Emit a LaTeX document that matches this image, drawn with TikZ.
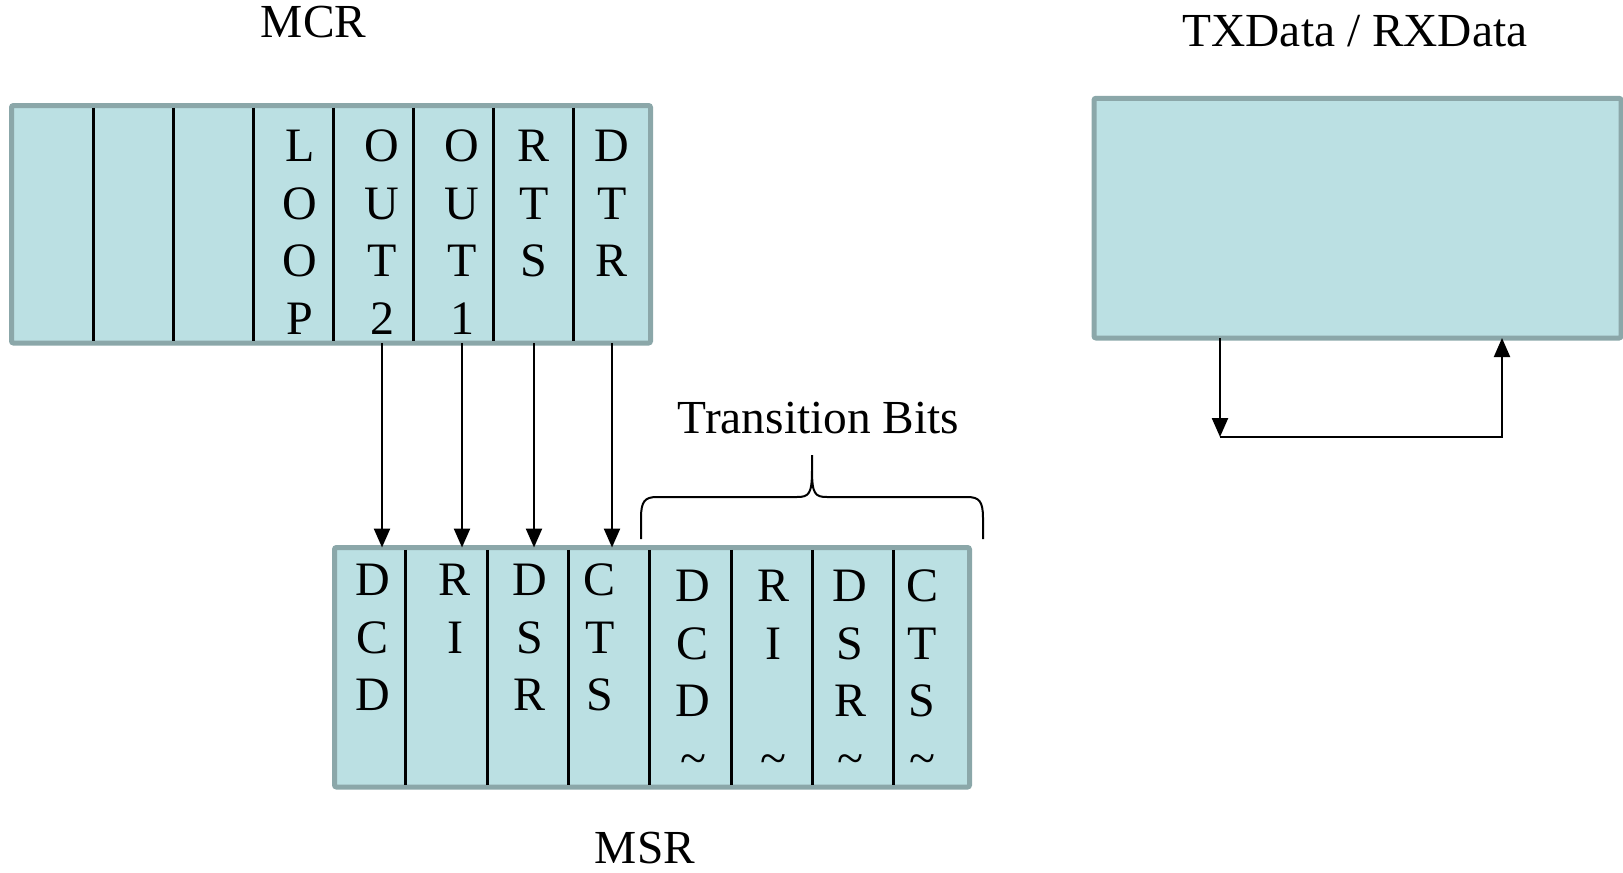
\documentclass[tikz,border=0pt]{standalone}
\usepackage{fontspec}
\setmainfont{Liberation Serif}
\usetikzlibrary{arrows.meta}

\definecolor{regfill}{HTML}{BBE0E3}
\definecolor{regline}{HTML}{8BA7A9}

\tikzset{
  regbox/.style={draw=regline, fill=regfill, line width=2.5pt, inner sep=0pt, outer sep=0pt, rounded corners=1pt},
  divider/.style={line width=1.5pt, shorten <=1.2pt, shorten >=1.2pt},
  bits/.style={align=center, inner sep=0pt, anchor=base, font=\fontsize{24pt}{28.75pt}\selectfont},
  title/.style={inner sep=0pt, anchor=base, font=\fontsize{23.7pt}{28pt}\selectfont},
  link/.style={line width=1.2pt, -{Triangle[length=9.5pt,width=8pt]}},
}

\begin{document}
\begin{tikzpicture}[x=0.5pt, y=-0.5pt]
\useasboundingbox (0,0) rectangle (1623,873);

% the three registers
\node[regbox, anchor=north west, minimum width=319.5pt, minimum height=118.75pt] (mcr) at (11.5,105.5) {};
\node[regbox, anchor=north west, minimum width=317.5pt, minimum height=119.75pt] (msr) at (334.5,547.5) {};
\node[regbox, anchor=north west, minimum width=263.5pt, minimum height=119.85pt] (tx) at (1094,98.3) {};

\foreach \x in {93,173,253,333,413,493,573}
  \draw[divider] (\x,0 |- mcr.north) -- (\x,0 |- mcr.south);
\foreach \x in {405,487,568,649,731,812,893}
  \draw[divider] (\x,0 |- msr.north) -- (\x,0 |- msr.south);

% bit names (base = last line)
\foreach \x/\y/\nm/\txt in {300/334.2/loop/{L\\O\\O\\P}, 382/334.2/outb/{O\\U\\T\\2},
                            462/334.2/outa/{O\\U\\T\\1}, 534/276.7/rts/{R\\T\\S}, 612/276.7/dtr/{D\\T\\R}}
  \node[bits] (\nm) at (\x,\y) {\txt};
\foreach \x/\y/\nm/\txt in {373/710.7/dcd/{D\\C\\D}, 455/653.2/ri/{R\\I}, 530/710.7/dsr/{D\\S\\R}, 600/710.7/cts/{C\\T\\S}}
  \node[bits] (\nm) at (\x,\y) {\txt};
\foreach \x/\nm/\txt in {693/ddcd/{D\\C\\D\\\textasciitilde}, 773/tri/{R\\I\\\mbox{}\\\textasciitilde},
                         850/ddsr/{D\\S\\R\\\textasciitilde}, 922/dcts/{C\\T\\S\\\textasciitilde}}
  \node[bits] (\nm) at (\x,774.2) {\txt};

% names
\node[title] (mcrname) at (313.6,37.3) {MCR};
\node[title] (msrname) at (645,863.3) {MSR};
\node[title] (txname) at (1355,46.7) {TXData / RXData};
\node[title] (trname) at (818.5,433.3) {Transition Bits};

% modem lines looped back
\foreach \a in {outb, outa, rts, dtr}
  \draw[link] (\a |- mcr.south) -- (\a |- msr.north);

% data loop
\coordinate (lpl) at (1220,437);
\coordinate (lpr) at (1502,437);
\draw[link] (tx.south -| lpl) -- (lpl);
\draw[link, line width=1pt] (lpl) -- (lpr) -- (tx.south -| lpr);

% brace
\draw[line width=1pt] (641,539) -- (641,518) .. controls (641,501) and (645,497) .. (657,497)
  -- (797,497) .. controls (809,497) and (812,494) .. (812,470) -- (812,455)
  -- (812,470) .. controls (812,494) and (815,497) .. (827,497)
  -- (967,497) .. controls (979,497) and (983,501) .. (983,518) -- (983,539);
\end{tikzpicture}
\end{document}
